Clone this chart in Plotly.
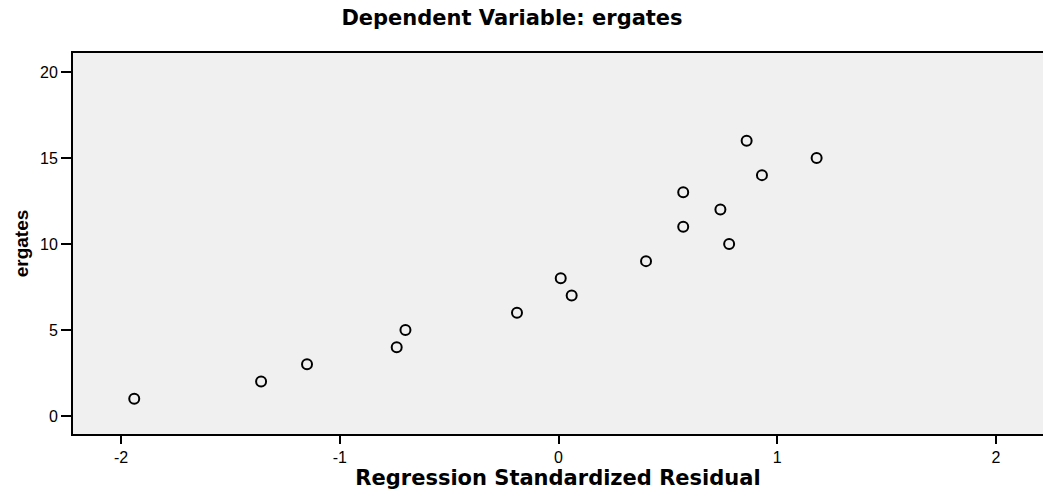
import plotly.graph_objects as go

# Regression standardized residuals (x) vs dependent variable ergates (y)
std_residual = [-1.94, -1.36, -1.15, -0.74, -0.70, -0.19, 0.06, 0.01,
                0.40, 0.78, 0.57, 0.74, 0.57, 0.93, 1.18, 0.86]
ergates = [1, 2, 3, 4, 5, 6, 7, 8, 9, 10, 11, 12, 13, 14, 15, 16]

x_ticks = [-2, -1, 0, 1, 2]
y_ticks = [0, 5, 10, 15, 20]

fig = go.Figure()
fig.add_trace(go.Scatter(
    x=std_residual, y=ergates, mode="markers",
    marker=dict(symbol="circle-open", size=10, color="black",
                line=dict(color="black", width=2)),
    showlegend=False, hoverinfo="x+y",
))

fig.update_layout(
    width=1043, height=498,
    margin=dict(l=73, r=0, t=53, b=64),
    paper_bgcolor="white",
    plot_bgcolor="#f0f0f0",
    title=dict(text="<b>Dependent Variable: ergates</b>",
               x=512 / 1043, xanchor="center", xref="container",
               y=1 - 18 / 498, yanchor="middle", yref="container",
               font=dict(family="DejaVu Sans", size=21, color="black")),
    xaxis=dict(range=[-2.22, 2.215], tickvals=x_ticks,
               ticktext=[str(v) for v in x_ticks],
               showgrid=False, zeroline=False,
               showline=True, linecolor="black", linewidth=2, mirror=True,
               ticks="outside", ticklen=8, tickwidth=2, tickcolor="black",
               tickfont=dict(family="Liberation Sans", size=16, color="black"),
               title=dict(text="<b>Regression Standardized Residual</b>",
                          font=dict(family="DejaVu Sans", size=21, color="black"),
                          standoff=5)),
    yaxis=dict(range=[-1.05, 21.1], tickvals=y_ticks,
               showgrid=False, zeroline=False,
               showline=True, linecolor="black", linewidth=2, mirror=False,
               ticks="outside", ticklen=10, tickwidth=2, tickcolor="black",
               tickfont=dict(family="Liberation Sans", size=16, color="black"),
               title=dict(text="<b>ergates</b>",
                          font=dict(family="Liberation Sans", size=19, color="black"),
                          standoff=6)),
)

fig.write_html("out.html")
